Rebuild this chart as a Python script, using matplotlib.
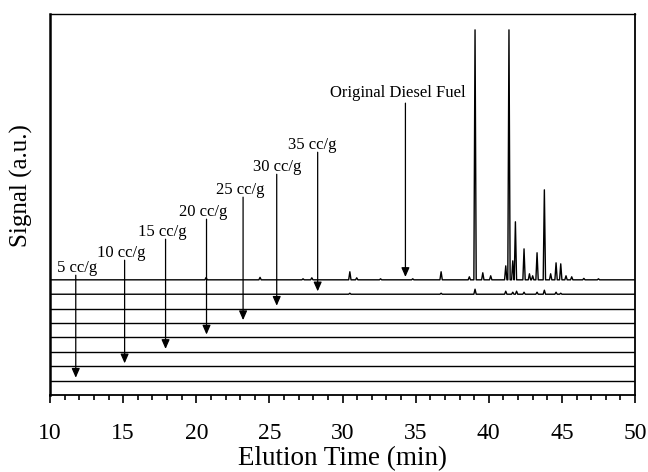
import numpy as np
import matplotlib.pyplot as plt
from matplotlib.ticker import MultipleLocator

plt.rcParams['font.family'] = ['Liberation Serif', 'DejaVu Serif']

# flushing volume of each stacked run (bottom to top), the top run is the fuel itself
samples = ['5 cc/g', '10 cc/g', '15 cc/g', '20 cc/g', '25 cc/g', '30 cc/g', '35 cc/g']
arrow_t = [11.76, 15.1, 17.9, 20.7, 23.2, 25.5, 28.3]      # where each arrow points (min)
label_t = [11.85, 14.9, 17.7, 20.5, 23.0, 25.5, 27.9]      # label centre (min)
label_y = [8.82, 9.86, 11.32, 12.71, 14.24, 15.83, 17.36]  # label height (trace units)

# original diesel fuel: peak retention time (min) and height (trace units)
diesel_t = [20.67, 24.36, 27.3, 27.9, 30.5, 30.97, 32.6, 34.8, 36.74, 38.67, 39.06, 39.59,
            40.13, 41.16, 41.38, 41.64, 41.82, 42.41, 42.78, 43.0, 43.3, 43.8, 44.23, 44.6,
            44.92, 45.28, 45.67, 46.5, 47.5]
diesel_h = [0.16, 0.17, 0.07, 0.14, 0.56, 0.14, 0.07, 0.07, 0.56, 0.21, 17.36, 0.49,
            0.28, 0.97, 17.36, 1.32, 4.03, 2.15, 0.42, 0.28, 1.88, 6.25, 0.42, 1.18,
            1.11, 0.28, 0.21, 0.1, 0.07]

# 35 cc/g run: what is left of the fuel
rest_t = [30.5, 36.74, 39.06, 41.16, 41.64, 41.9, 42.41, 43.3, 43.8, 44.6, 44.92]
rest_h = [0.07, 0.07, 0.35, 0.21, 0.14, 0.21, 0.14, 0.14, 0.28, 0.14, 0.07]


def trace(t_peaks, h_peaks, base, w=0.08):
    x, y = [10.0], [base]
    for t, h in zip(t_peaks, h_peaks):
        x += [t - w, t, t + w]
        y += [base, base + h, base]
    x.append(50.0)
    y.append(base)
    return x, y


fig = plt.figure(figsize=(6.48, 4.72), dpi=100)
ax = fig.add_axes([0.0772, 0.1631, 0.9028, 0.8072])

# flat runs
for i in range(len(samples)):
    base = i + 1
    if samples[i] == '35 cc/g':
        x, y = trace(rest_t, rest_h, base)
    else:
        x, y = [10, 50], [base, base]
    ax.plot(x, y, color='black', lw=1.0)

x, y = trace(diesel_t, diesel_h, 8)
ax.plot(x, y, color='black', lw=1.0)

arrow = dict(arrowstyle='-|>,head_length=0.5,head_width=0.22', color='black',
             lw=0.9, shrinkA=0, shrinkB=0, mutation_scale=11)
for i, s in enumerate(samples):
    ax.text(label_t[i], label_y[i], s, ha='center', va='center', fontsize=12)
    ax.annotate('', xy=(arrow_t[i], i + 1 + 0.2), xytext=(arrow_t[i], label_y[i] - 0.5),
                arrowprops=arrow)

ax.text(33.8, 20.97, 'Original Diesel Fuel', ha='center', va='center', fontsize=12)
ax.annotate('', xy=(34.3, 8.2), xytext=(34.3, 20.97 - 0.7), arrowprops=arrow)

ax.set_xlim(10, 50)
ax.set_ylim(0, 26.46)
ax.xaxis.set_major_locator(MultipleLocator(5))
ax.xaxis.set_minor_locator(MultipleLocator(1))
ax.tick_params(axis='x', which='major', direction='out', length=6, width=1.2,
               labelsize=17, pad=14)
ax.tick_params(axis='x', which='minor', direction='out', length=3.5, width=1.2)
ax.set_yticks([])
for sp in ax.spines.values():
    sp.set_linewidth(1.3)
ax.spines['left'].set_linewidth(1.8)
ax.spines['top'].set_linewidth(1.0)

ax.set_xlabel('Elution Time (min)', fontsize=19.5, labelpad=2)
ax.set_ylabel('Signal (a.u.)', fontsize=18)
ax.yaxis.set_label_coords(-0.029, 0.55)

plt.savefig('out.png', dpi=100)
